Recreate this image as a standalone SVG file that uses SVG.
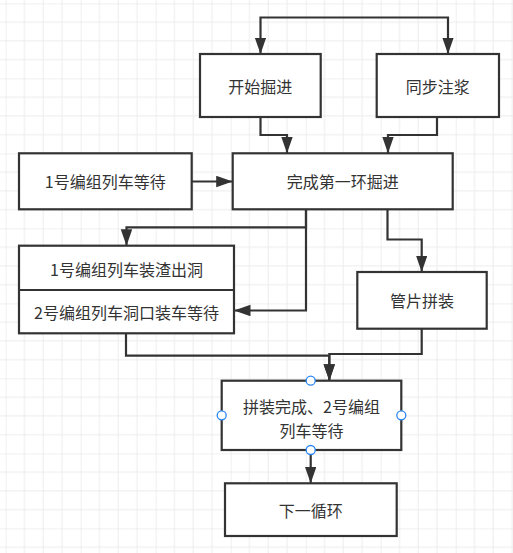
<svg xmlns="http://www.w3.org/2000/svg" width="513" height="553" viewBox="0 0 513 553">
<style>
.box{fill:#ffffff;stroke:#333333;stroke-width:2.2}
.t{font-family:"Noto Sans CJK SC","Liberation Sans",sans-serif;font-size:16px;fill:#333333;text-anchor:middle;dominant-baseline:central}
.c{fill:none;stroke:#333333;stroke-width:2.2;marker-end:url(#arr)}
.h{fill:#ffffff;stroke:#2a85f5;stroke-width:1.3}
</style>
<defs>
<pattern id="grid" patternUnits="userSpaceOnUse" x="5.7" y="3.4" width="75" height="75">
<path d="M18.75,0V75M37.5,0V75M56.25,0V75M0,18.75H75M0,37.5H75M0,56.25H75" stroke="#ececec" stroke-width="1" fill="none"/>
<path d="M0,0V75M0,0H75" stroke="#e2e2e2" stroke-width="1" fill="none"/>
</pattern>
<marker id="arr" markerUnits="userSpaceOnUse" markerWidth="17" markerHeight="12" refX="16.5" refY="5.75" orient="auto-start-reverse">
<path d="M0,0L16.5,5.75L0,11.5z" fill="#333333"/>
</marker>
</defs>
<rect width="513" height="553" fill="#ffffff"/>
<rect width="513" height="553" fill="url(#grid)"/>
<g id="connectors">
<path class="c" d="M260.5,54V17.5H448V54" style="marker-start:url(#arr)"/>
<path class="c" d="M260.5,117V135H287V153.3"/>
<path class="c" d="M437,117V135H388V153.3"/>
<path class="c" d="M191.7,181.5H232.7"/>
<path class="c" d="M306,209.3V227.3H126.5V245.7"/>
<path class="c" d="M306,209.3V310.5H234"/>
<path class="c" d="M387.5,209.3V239.5H421.7V272"/>
<path class="c" d="M126,333.3V355.7H329.3V380.7"/>
<path class="c" d="M421.7,328.7V354H329.3V380.7"/>
<path class="c" d="M310.7,450V483.3"/>
</g>
<g id="n1"><rect class="box" x="200" y="54" width="120.7" height="63"/><text class="t" x="260.3" y="85.5">开始掘进</text></g>
<g id="n2"><rect class="box" x="376.7" y="54" width="122.3" height="63"/><text class="t" x="437.8" y="85.5">同步注浆</text></g>
<g id="n3"><rect class="box" x="19" y="153.3" width="172.7" height="56"/><text class="t" x="105.3" y="181.3">1号编组列车等待</text></g>
<g id="n4"><rect class="box" x="232.7" y="153.3" width="220" height="56"/><text class="t" x="342.7" y="181.3">完成第一环掘进</text></g>
<g id="n5"><rect class="box" x="19" y="245.7" width="215" height="87.6"/><line x1="19" y1="290" x2="234" y2="290" stroke="#333333" stroke-width="2.2"/><text class="t" x="126.5" y="269">1号编组列车装渣出洞</text><text class="t" x="126.5" y="311.5">2号编组列车洞口装车等待</text></g>
<g id="n6"><rect class="box" x="357.3" y="272" width="129.4" height="56.7"/><text class="t" x="422" y="300.3">管片拼装</text></g>
<g id="n7"><rect class="box" x="221.7" y="380.7" width="179.6" height="69.3"/><text class="t" x="311.5" y="406.2"><tspan x="311.5" y="406.2">拼装完成、2号编组</tspan><tspan x="311.5" y="429.6">列车等待</tspan></text>
<circle class="h" cx="310.7" cy="380.7" r="4.5"/><circle class="h" cx="221.7" cy="415.3" r="4.5"/><circle class="h" cx="401.3" cy="415.3" r="4.5"/><circle class="h" cx="310.7" cy="450" r="4.5"/></g>
<g id="n8"><rect class="box" x="225" y="483.3" width="171.7" height="52.7"/><text class="t" x="310.8" y="509.7">下一循环</text></g>
</svg>
